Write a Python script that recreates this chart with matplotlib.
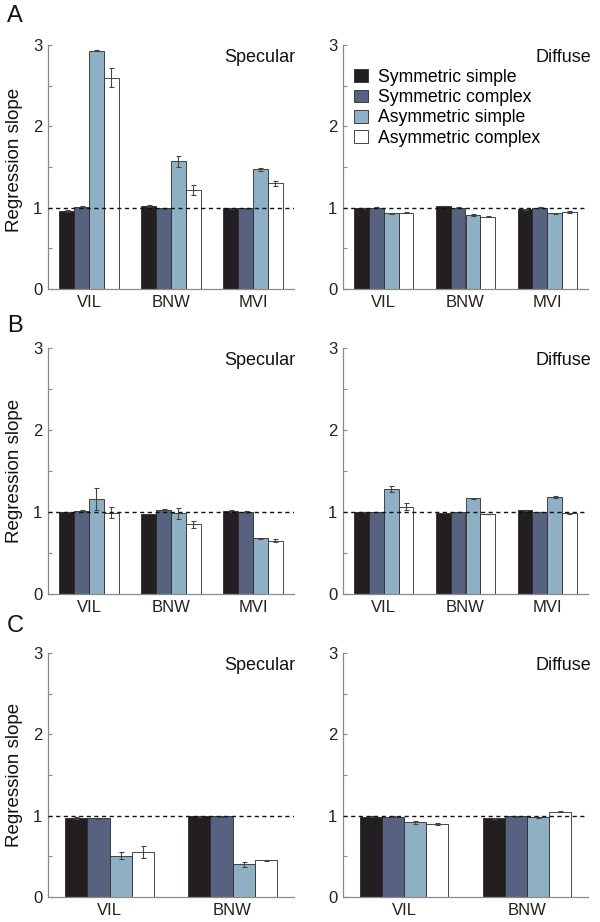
import matplotlib
matplotlib.use("Agg")
import matplotlib.pyplot as plt
import numpy as np
from matplotlib.patches import Patch

plt.rcParams['font.family'] = ['Liberation Sans', 'DejaVu Sans']

conditions = ["Symmetric simple", "Symmetric complex", "Asymmetric simple", "Asymmetric complex"]
colors = ["#231f20", "#56627f", "#8fb0c4", "#ffffff"]

groups_AB = ["VIL", "BNW", "MVI"]
groups_C = ["VIL", "BNW"]

# values: one row per condition, one column per group
A_spec = [[0.96, 1.02, 0.99], [1.01, 0.99, 0.99], [2.93, 1.57, 1.47], [2.60, 1.22, 1.30]]
A_spec_err = [[0.01, 0.01, 0.01], [0.015, 0.01, 0.005], [0.005, 0.07, 0.02], [0.12, 0.06, 0.03]]
A_diff = [[0.995, 1.02, 0.98], [1.0, 1.0, 1.0], [0.93, 0.91, 0.93], [0.94, 0.89, 0.945]]
A_diff_err = [[0.005, 0.005, 0.005], [0.01, 0.01, 0.005], [0.01, 0.01, 0.005], [0.01, 0.005, 0.01]]

B_spec = [[1.0, 0.975, 1.01], [1.01, 1.03, 1.0], [1.16, 0.985, 0.68], [0.99, 0.85, 0.65]]
B_spec_err = [[0.005, 0.005, 0.01], [0.01, 0.01, 0.015], [0.13, 0.065, 0.005], [0.065, 0.045, 0.015]]
B_diff = [[1.0, 0.99, 1.02], [1.0, 1.0, 1.0], [1.28, 1.165, 1.185], [1.065, 0.975, 0.985]]
B_diff_err = [[0.003, 0.003, 0.005], [0.003, 0.003, 0.003], [0.04, 0.005, 0.01], [0.045, 0.005, 0.005]]

C_spec = [[0.97, 0.99], [0.97, 0.99], [0.51, 0.40], [0.55, 0.45]]
C_spec_err = [[0.01, 0.005], [0.005, 0.005], [0.04, 0.025], [0.075, 0.01]]
C_diff = [[0.985, 0.97], [0.985, 0.99], [0.92, 0.98], [0.895, 1.05]]
C_diff_err = [[0.005, 0.005], [0.005, 0.005], [0.02, 0.005], [0.01, 0.01]]

panels = [
    ("A", groups_AB, A_spec, A_spec_err, A_diff, A_diff_err),
    ("B", groups_AB, B_spec, B_spec_err, B_diff, B_diff_err),
    ("C", groups_C, C_spec, C_spec_err, C_diff, C_diff_err),
]

W, H = 600, 922
fig = plt.figure(figsize=(W / 100, H / 100), dpi=100)

row_px = [(45, 289), (348, 594), (653, 897)]
letter_px = [15.5, 326, 626]
col_px = [(48, 294), (343, 588)]

spine_col = "#8a8a8a"
bw = 0.18


def draw(ax, groups, vals, errs, title, title_x):
    x = np.arange(1, len(groups) + 1)
    for i in range(4):
        ax.bar(x + (i - 1.5) * bw, vals[i], width=bw, color=colors[i],
               edgecolor="#2a2a2a", linewidth=0.6, zorder=2)
        ax.errorbar(x + (i - 1.5) * bw, vals[i], yerr=errs[i], fmt="none",
                    ecolor="#444444", elinewidth=0.8, capsize=1.8, capthick=0.8, zorder=3)
    ax.axhline(1.0, color="#111111", linestyle=(0, (3, 2.5)), linewidth=1.0, zorder=4)
    ax.set_xlim(0.5, len(groups) + 0.5)
    ax.set_ylim(0, 3)
    ax.set_xticks(x)
    ax.set_xticklabels(groups, fontsize=12, color="#222222")
    ax.set_yticks([0, 1, 2, 3])
    ax.set_yticklabels(["0", "1", "2", "3"], fontsize=12, color="#222222")
    ax.set_yticks([0.5, 1.5, 2.5], minor=True)
    ax.tick_params(axis="x", length=0, pad=4)
    ax.tick_params(axis="y", which="both", direction="in", length=3, color=spine_col, width=0.8, pad=4)
    for s in ["top", "right"]:
        ax.spines[s].set_visible(False)
    for s in ["left", "bottom"]:
        ax.spines[s].set_color(spine_col)
        ax.spines[s].set_linewidth(0.9)
    ax.text(title_x, 0.95, title, transform=ax.transAxes, ha="right", va="center",
            fontsize=13, color="#111111")


for r, (letter, groups, sv, se, dv, de) in enumerate(panels):
    top, bot = row_px[r]
    for c in range(2):
        l, rr = col_px[c]
        ax = fig.add_axes([l / W, 1 - bot / H, (rr - l) / W, (bot - top) / H])
        if c == 0:
            draw(ax, groups, sv, se, "Specular", 1.005)
            ax.set_ylabel("Regression slope", fontsize=13.5, color="#111111")
            ax.yaxis.set_label_coords(-0.1, 0.53 if letter == "A" else 0.5)
        else:
            draw(ax, groups, dv, de, "Diffuse", 1.012)
            if letter == "A":
                handles = [Patch(facecolor=colors[i], edgecolor="#2a2a2a", linewidth=0.6)
                           for i in range(4)]
                ax.legend(handles, conditions, loc="upper left", bbox_to_anchor=(0.0, 0.945),
                          frameon=False, fontsize=12.7, handlelength=0.8, handleheight=0.75,
                          handletextpad=0.6, labelspacing=0.18, borderaxespad=0.2)
    fig.text(7 / W, 1 - letter_px[r] / H, letter, fontsize=17, ha="left", va="center", color="#111111")

fig.savefig("out.png", dpi=100)
